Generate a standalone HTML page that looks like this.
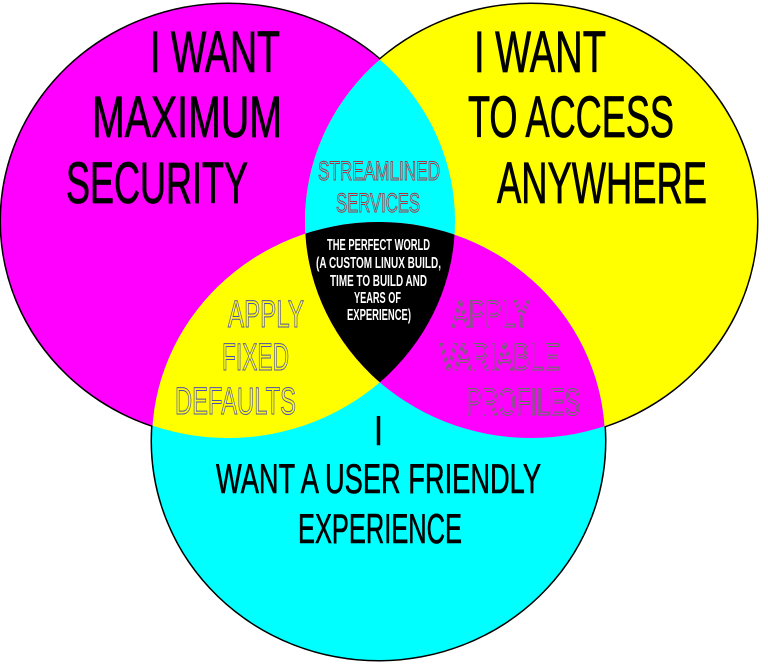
<!DOCTYPE html>
<html><head><meta charset="utf-8"><style>
html,body{margin:0;padding:0;background:#fff;width:768px;height:668px;overflow:hidden}
text{font-family:"Liberation Sans Narrow","Liberation Sans",sans-serif;}
</style></head><body>
<svg width="768" height="668" viewBox="0 0 768 668" xmlns="http://www.w3.org/2000/svg">
<defs>
<clipPath id="cL"><ellipse cx="228" cy="221" rx="227" ry="217"/></clipPath>
<clipPath id="cR"><ellipse cx="531" cy="221" rx="226" ry="217"/></clipPath>
</defs>
<g stroke="#000" stroke-width="3" fill="none">
<ellipse cx="228" cy="221" rx="227" ry="217"/>
<ellipse cx="531" cy="221" rx="226" ry="217"/>
<ellipse cx="378.5" cy="441" rx="226.5" ry="219"/>
</g>
<ellipse cx="228" cy="221" rx="227" ry="217" fill="#ff00ff"/>
<ellipse cx="531" cy="221" rx="226" ry="217" fill="#ffff00"/>
<ellipse cx="378.5" cy="441" rx="226.5" ry="219" fill="#00ffff"/>
<ellipse cx="531" cy="221" rx="226" ry="217" fill="#00ffff" clip-path="url(#cL)"/>
<ellipse cx="378.5" cy="441" rx="226.5" ry="219" fill="#ffff00" clip-path="url(#cL)"/>
<ellipse cx="378.5" cy="441" rx="226.5" ry="219" fill="#ff00ff" clip-path="url(#cR)"/>
<g clip-path="url(#cL)"><ellipse cx="378.5" cy="441" rx="226.5" ry="219" fill="#000" clip-path="url(#cR)"/></g>

<g fill="#000" stroke="#000" stroke-width="0.8" font-size="58">
<text x="150" y="72" textLength="130" lengthAdjust="spacingAndGlyphs">I WANT</text>
<text x="92" y="137" textLength="190" lengthAdjust="spacingAndGlyphs">MAXIMUM</text>
<text x="66" y="203" textLength="182" lengthAdjust="spacingAndGlyphs">SECURITY</text>
<text x="474" y="72" textLength="132" lengthAdjust="spacingAndGlyphs">I WANT</text>
<text x="468" y="137" textLength="206" lengthAdjust="spacingAndGlyphs">TO ACCESS</text>
<text x="497" y="203" textLength="210" lengthAdjust="spacingAndGlyphs">ANYWHERE</text>
</g>
<g fill="#000" stroke="#000" stroke-width="0.6" font-size="42">
<text x="374" y="445" textLength="9" lengthAdjust="spacingAndGlyphs">I</text>
<text x="216" y="493" textLength="325" lengthAdjust="spacingAndGlyphs">WANT A USER FRIENDLY</text>
<text x="298" y="543" textLength="164" lengthAdjust="spacingAndGlyphs">EXPERIENCE</text>
</g>
<g fill="#00ffff" stroke="#b03040" stroke-width="1" font-size="27">
<text x="318" y="180" textLength="122" lengthAdjust="spacingAndGlyphs">STREAMLINED</text>
<text x="336" y="212" textLength="84" lengthAdjust="spacingAndGlyphs">SERVICES</text>
</g>
<g fill="#ffff00" stroke="#5050b0" stroke-width="1" font-size="38">
<text x="228" y="327" textLength="76" lengthAdjust="spacingAndGlyphs">APPLY</text>
<text x="222" y="370" textLength="67" lengthAdjust="spacingAndGlyphs">FIXED</text>
<text x="175" y="414" textLength="121" lengthAdjust="spacingAndGlyphs">DEFAULTS</text>
</g>
<g fill="#ff00ff" stroke="#508050" stroke-width="1" font-size="38">
<text x="452" y="327" textLength="78" lengthAdjust="spacingAndGlyphs">APPLY</text>
<text x="440" y="370" textLength="120" lengthAdjust="spacingAndGlyphs">VARIABLE</text>
<text x="466" y="415" textLength="114" lengthAdjust="spacingAndGlyphs">PROFILES</text>
</g>
<g fill="#fff" font-size="16" font-weight="bold">
<text x="327" y="250" textLength="103" lengthAdjust="spacingAndGlyphs">THE PERFECT WORLD</text>
<text x="316" y="268" textLength="125" lengthAdjust="spacingAndGlyphs">(A CUSTOM LINUX BUILD,</text>
<text x="330" y="286" textLength="97" lengthAdjust="spacingAndGlyphs">TIME TO BUILD AND</text>
<text x="354" y="303" textLength="47" lengthAdjust="spacingAndGlyphs">YEARS OF</text>
<text x="347" y="320" textLength="64" lengthAdjust="spacingAndGlyphs">EXPERIENCE)</text>
</g>
</svg>
</body></html>
